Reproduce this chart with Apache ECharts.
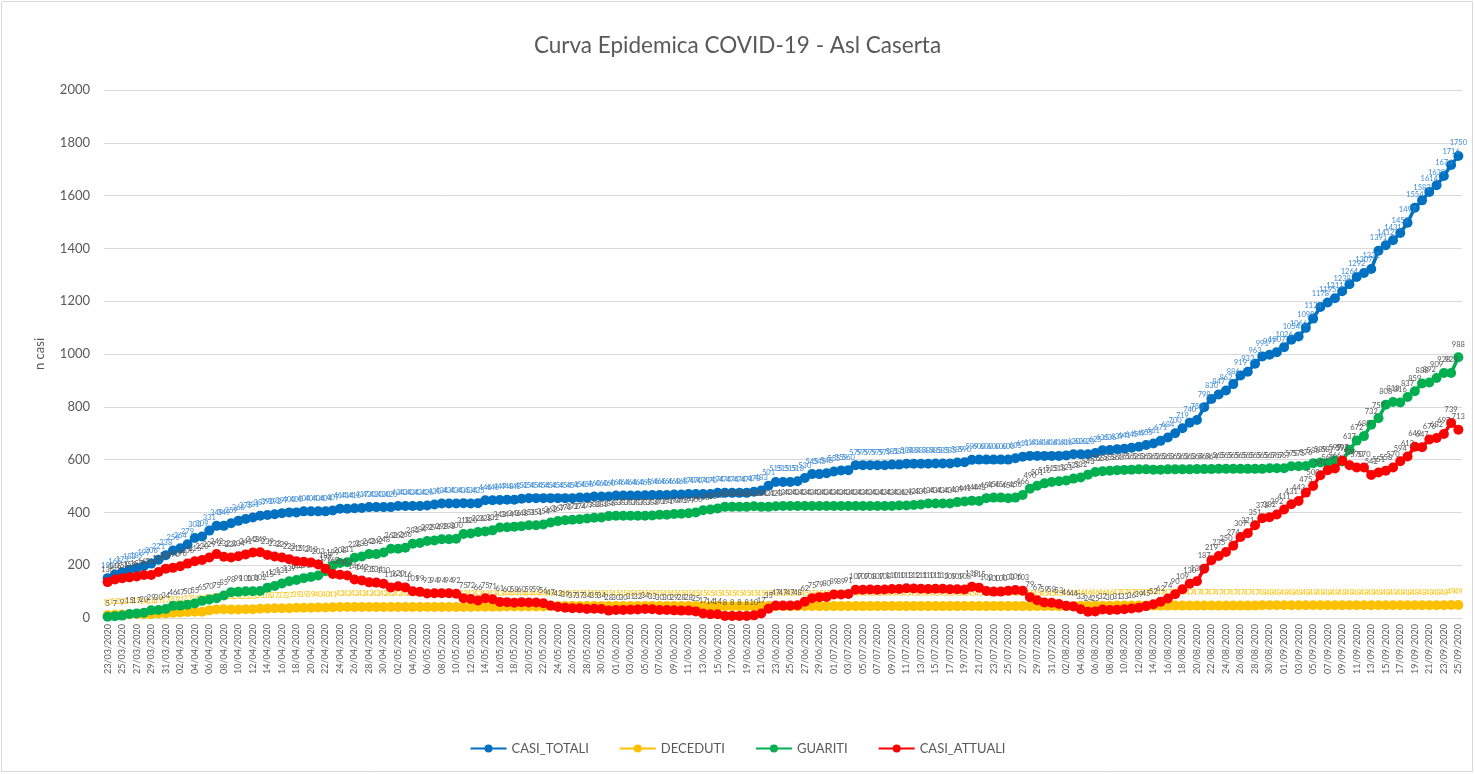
<!DOCTYPE html>
<html>
<head>
<meta charset="utf-8">
<title>Curva Epidemica COVID-19 - Asl Caserta</title>
<script src="https://cdn.jsdelivr.net/npm/echarts@6/dist/echarts.min.js"></script>
<style>
  html, body { margin: 0; padding: 0; background: #fff; }
  #main { width: 1475px; height: 774px; }
</style>
</head>
<body>
<div id="main"></div>
<script type="text/javascript">
// giorni dal 23/03/2020 al 25/09/2020
var firstDay = Date.UTC(2020, 2, 23);
var nDays = 187;
var dates = [];
for (var d = 0; d < nDays; d++) {
    var t = new Date(firstDay + d * 86400000);
    var dd = ('0' + t.getUTCDate()).slice(-2);
    var mm = ('0' + (t.getUTCMonth() + 1)).slice(-2);
    dates.push(dd + '/' + mm + '/' + t.getUTCFullYear());
}

var casiTotali = [
    151,165,173,183,189,197,206,221,238,256,
    264,279,303,309,331,349,349,359,368,375,
    381,387,390,393,397,400,400,404,404,404,
    404,407,414,414,416,417,420,420,420,420,
    424,424,424,424,426,430,434,434,434,435,
    434,435,446,446,447,448,448,452,454,454,
    454,454,454,454,454,456,456,460,460,460,
    464,464,464,464,465,466,466,466,468,468,
    470,470,470,470,474,474,474,474,474,478,
    483,501,515,515,515,518,530,545,545,548,
    555,559,560,579,579,579,579,579,581,581,
    584,584,584,584,585,585,585,589,590,599,
    600,600,600,600,600,605,611,614,614,614,
    614,614,616,620,620,620,625,635,636,639,
    641,645,649,655,661,671,684,700,719,740,
    750,798,830,847,862,886,919,933,963,991,
    997,1007,1026,1054,1066,1099,1134,1178,1195,1211,
    1238,1264,1292,1307,1322,1391,1412,1431,1458,1497,
    1554,1582,1614,1639,1674,1716,1750
];

var deceduti = [
    10,12,13,14,15,14,14,17,17,20,
    21,23,24,24,29,32,33,32,32,33,
    33,35,36,37,37,37,39,39,39,40,
    40,41,42,42,42,42,42,42,42,42,
    42,42,42,42,42,42,42,42,42,42,
    42,43,43,43,43,44,44,44,44,44,
    44,45,45,45,45,45,45,45,45,45,
    45,45,45,45,45,45,45,45,45,45,
    45,45,45,45,45,45,45,45,45,45,
    45,45,45,45,45,45,45,45,45,45,
    45,45,45,45,45,45,45,45,45,45,
    45,45,45,45,45,45,45,45,45,45,
    45,45,45,45,45,45,45,45,45,45,
    45,45,45,45,46,46,46,46,46,47,
    47,47,47,47,47,47,47,47,47,47,
    47,47,47,47,47,47,47,47,47,48,
    48,48,48,48,48,48,48,48,48,48,
    48,48,48,48,48,48,48,48,48,48,
    48,48,48,48,48,49,49
];

var guariti = [
    5,7,9,15,17,20,29,30,34,46,
    47,50,55,65,70,75,85,98,99,101,
    101,102,115,121,131,139,144,151,155,161,
    177,199,208,211,228,233,242,242,248,262,
    262,266,281,284,292,294,298,298,300,318,
    320,326,328,332,343,344,346,348,351,351,
    354,362,367,370,372,374,377,380,381,386,
    387,387,387,387,387,388,391,391,394,395,
    397,400,408,411,415,421,421,421,421,423,
    421,421,423,424,424,424,424,424,424,424,
    424,424,424,424,424,424,424,424,424,426,
    426,428,430,434,434,434,434,439,441,444,
    443,454,456,456,454,456,466,490,501,510,
    515,518,521,528,532,543,553,556,558,560,
    561,562,563,563,562,562,563,563,563,563,
    564,564,564,565,565,565,565,565,565,565,
    567,567,567,575,575,576,586,589,587,597,
    593,637,672,689,732,757,808,818,816,837,
    859,888,892,909,928,928,988
];

var casiAttuali = [
    136,146,151,154,157,163,163,174,187,190,
    196,206,215,220,229,242,232,229,234,241,
    248,249,239,233,229,223,215,213,210,203,
    187,167,164,161,146,142,135,134,130,116,
    120,116,101,99,93,94,94,94,92,75,
    72,66,75,71,61,60,58,60,59,59,
    56,47,42,39,37,37,34,35,34,28,
    30,30,31,32,34,33,30,30,29,28,
    28,25,17,14,14,8,8,8,8,10,
    17,35,47,47,47,48,62,75,79,80,
    89,89,91,107,107,108,107,108,110,110,
    113,112,111,110,111,111,109,109,108,118,
    115,102,100,100,103,106,103,79,67,59,
    58,53,46,44,33,24,25,32,30,31,
    33,36,39,45,52,62,74,90,109,130,
    139,187,219,235,250,274,307,321,351,378,
    382,392,411,431,443,475,500,541,560,566,
    597,579,570,570,542,551,558,570,594,612,
    649,647,676,682,697,739,713
];

var seriesNames = ['CASI_TOTALI', 'DECEDUTI', 'GUARITI', 'CASI_ATTUALI'];
var seriesColors = ['#0070C0', '#FFC000', '#00B050', '#FF0000'];
var labelColors = ['#3D8BD6', '#FFC000', '#595959', '#595959'];
var seriesValues = [casiTotali, deceduti, guariti, casiAttuali];

var font = 'Lato, "Open Sans", sans-serif';

var myChart = echarts.init(document.getElementById('main'));

var series = [];
for (var k = 0; k < seriesNames.length; k++) {
    series.push({
        name: seriesNames[k],
        type: 'line',
        data: seriesValues[k],
        symbol: 'circle',
        symbolSize: 10,
        showAllSymbol: true,
        lineStyle: { width: 3.5, color: seriesColors[k] },
        itemStyle: { color: seriesColors[k] },
        label: {
            show: true,
            position: 'top',
            distance: 4,
            fontSize: 7.5,
            fontFamily: font,
            color: labelColors[k]
        },
        labelLayout: { hideOverlap: false },
        emphasis: { disabled: true },
        z: 2 + k
    });
}

var option = {
    backgroundColor: '#ffffff',
    animation: false,
    textStyle: { fontFamily: font },
    title: {
        text: 'Curva Epidemica COVID-19 - Asl Caserta',
        left: 'center',
        top: 29,
        textStyle: {
            fontFamily: font,
            fontSize: 22.5,
            fontWeight: 'normal',
            color: '#595959'
        }
    },
    legend: {
        bottom: 14,
        left: 'center',
        itemWidth: 36,
        itemHeight: 10,
        itemGap: 30,
        data: seriesNames,
        textStyle: { fontFamily: font, fontSize: 13, color: '#595959' }
    },
    grid: {
        left: 104,
        right: 13,
        top: 90,
        bottom: 156,
        containLabel: false
    },
    xAxis: {
        type: 'category',
        data: dates,
        boundaryGap: true,
        axisLine: { lineStyle: { color: '#d9d9d9', width: 1 } },
        axisTick: { show: false },
        axisLabel: {
            interval: 1,
            rotate: 90,
            fontSize: 9,
            fontFamily: font,
            color: '#595959',
            margin: 6
        }
    },
    yAxis: {
        type: 'value',
        min: 0,
        max: 2000,
        interval: 200,
        name: 'n casi',
        nameLocation: 'middle',
        nameGap: 58,
        nameRotate: 90,
        nameTextStyle: { fontFamily: font, fontSize: 13, color: '#595959' },
        axisLine: { show: false },
        axisTick: { show: false },
        axisLabel: {
            fontSize: 13,
            fontFamily: font,
            color: '#595959',
            margin: 14,
            formatter: function (v) { return String(v); }
        },
        splitLine: { lineStyle: { color: '#d9d9d9', width: 1 } }
    },
    graphic: [{
        type: 'rect',
        shape: { x: 1.5, y: 1.5, width: 1471, height: 770 },
        style: { fill: 'none', stroke: '#d9d9d9', lineWidth: 1 },
        silent: true
    }],
    series: series
};

myChart.setOption(option);
</script>
</body>
</html>
